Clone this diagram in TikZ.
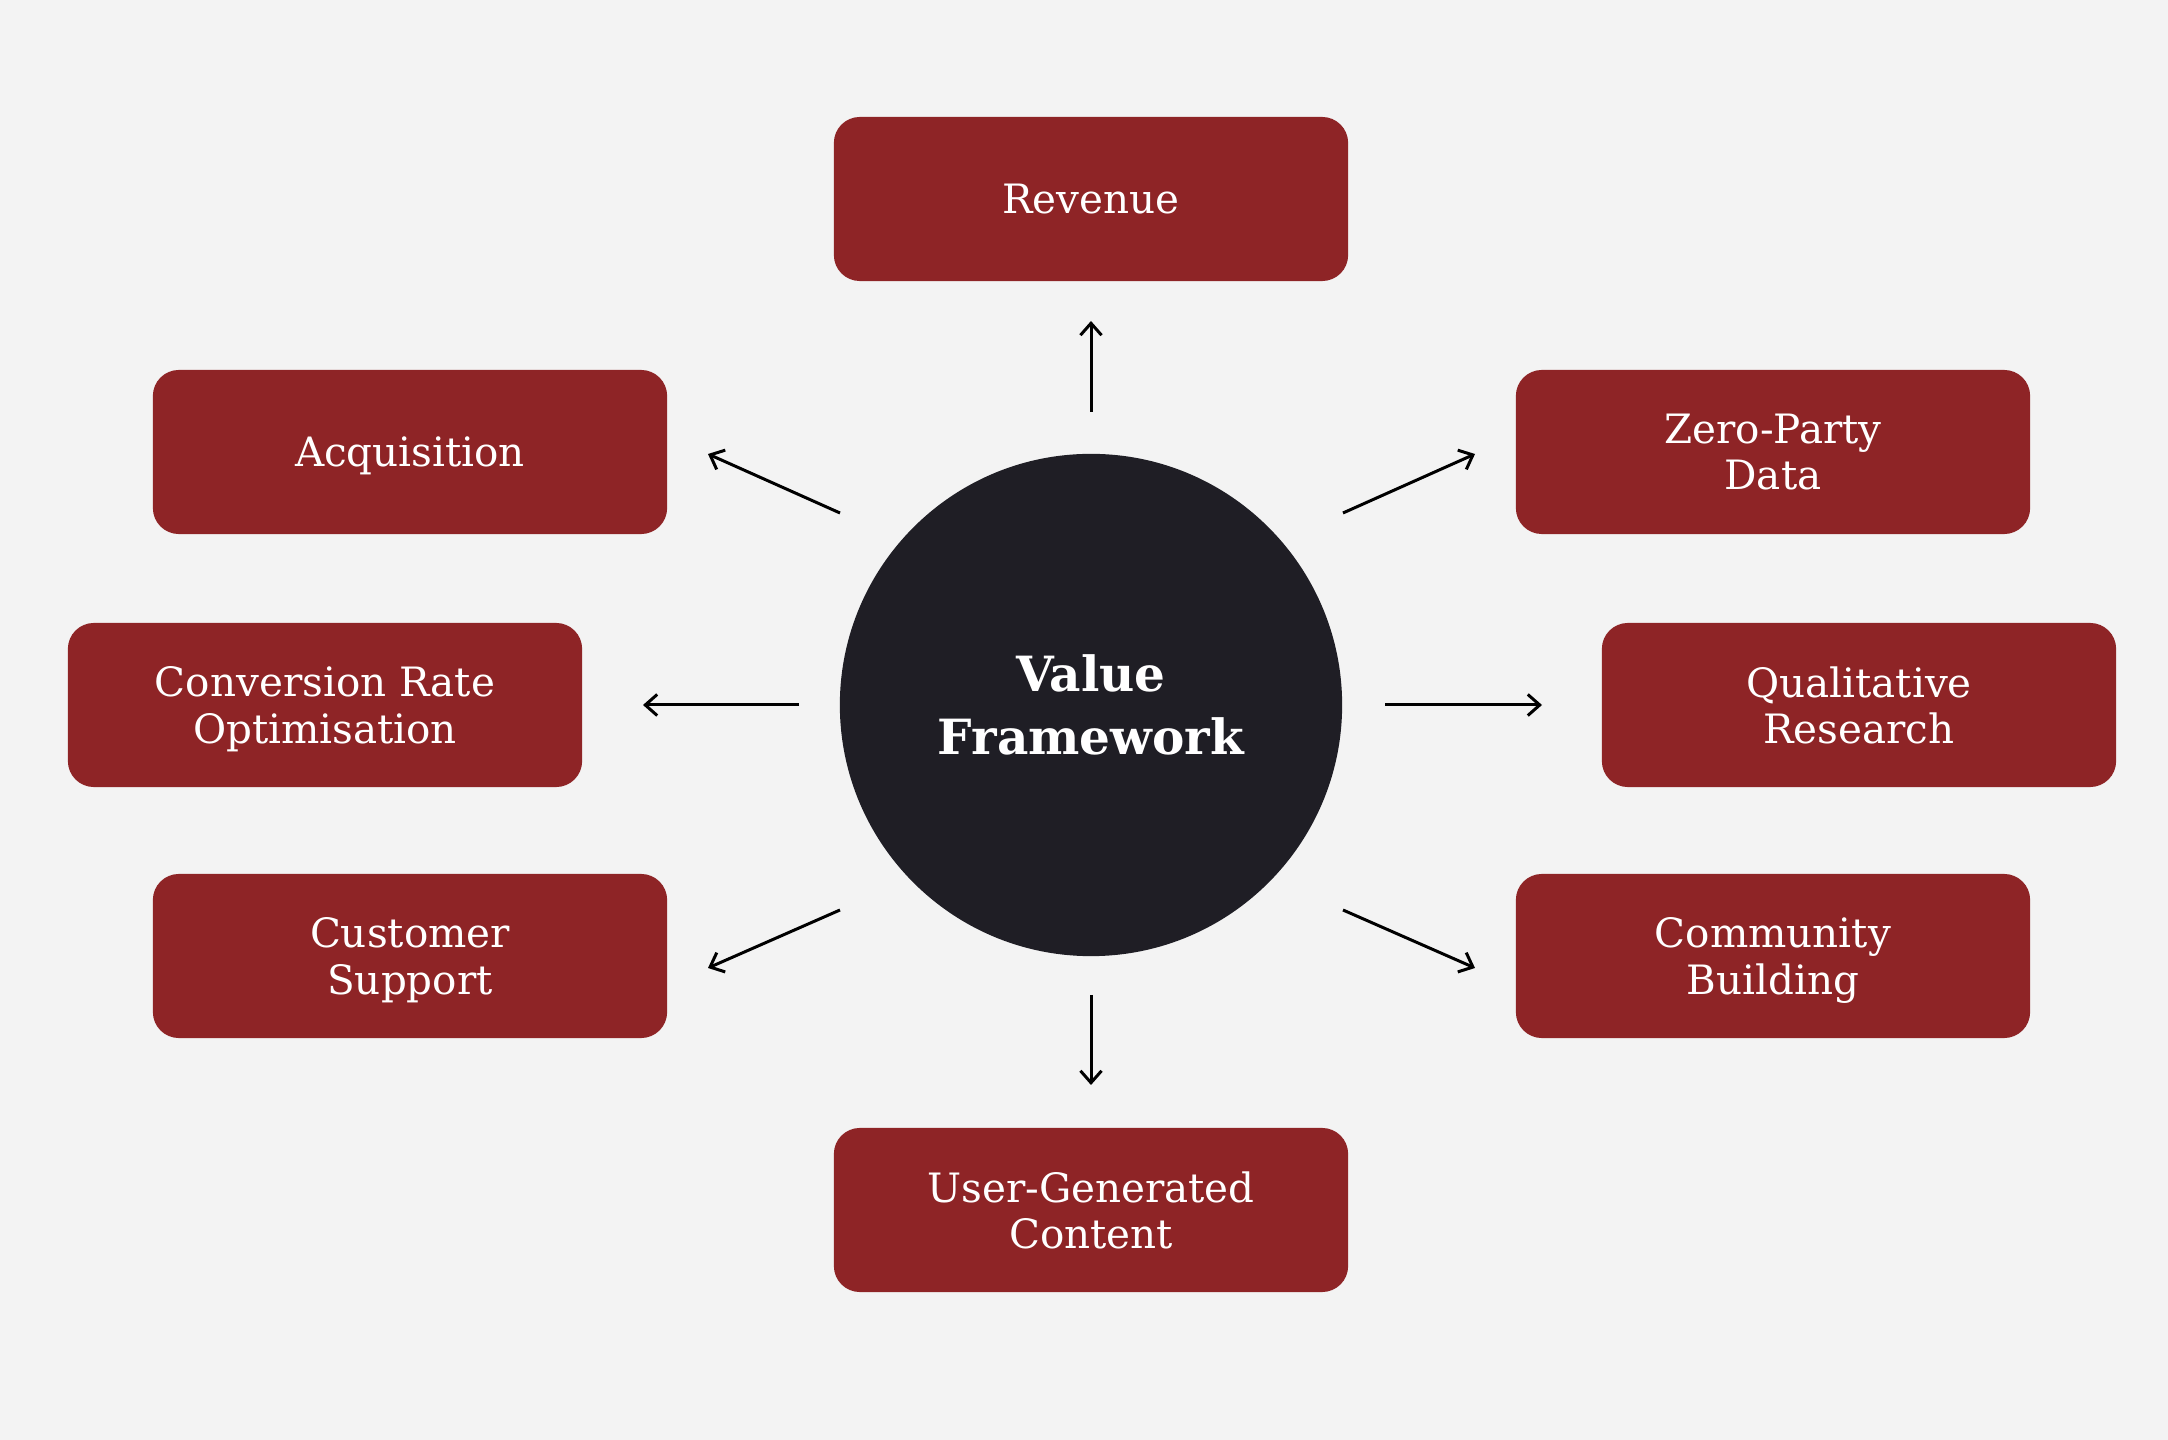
\documentclass[tikz,border=0pt]{standalone}
\usepackage{fontspec}
\setmainfont{DejaVu Serif}
\usetikzlibrary{arrows.meta}
\definecolor{boxred}{HTML}{8E2426}
\definecolor{hubdark}{HTML}{1F1E25}
\definecolor{paper}{HTML}{F3F3F3}
\tikzset{
  goalbox/.style={fill=boxred, text=white, rounded corners=0.26cm, minimum width=5.14cm, minimum height=1.64cm, align=center, text depth=0pt, font=\fontsize{11.5}{13.1}\selectfont},
  hub/.style={circle, fill=hubdark, text=white, minimum size=5.02cm, align=center, text depth=0pt, font=\fontsize{13.8}{17.9}\selectfont\bfseries},
  spoke/.style={-{Straight Barb[length=3.4pt,width=6pt]}, line width=0.85pt, black}
}
\begin{document}
\begin{tikzpicture}[x=0.01cm, y=-0.01cm]
        \fill[paper] (0,0) rectangle (2168,1440);
     % Centre
        \node[hub] (vf) at (1091,705) {Value\\Framework};
     % Goals
        \node[goalbox] (rev) at (1091,199) {Revenue};
        \node[goalbox] (acq) at (410,452) {Acquisition};
        \node[goalbox] (zpd) at (1773,452) {Zero-Party\\Data};
        \node[goalbox] (cro) at (325,705) {Conversion Rate\\Optimisation};
        \node[goalbox] (qual) at (1859,705) {Qualitative\\Research};
        \node[goalbox] (cs) at (410,956) {Customer\\Support};
        \node[goalbox] (comm) at (1773,956) {Community\\Building};
        \node[goalbox] (ugc) at (1091,1210) {User-Generated\\Content};
     % Arrow ends
        \coordinate (rev-a) at (1091,412);  \coordinate (rev-b) at (1091,321);
        \coordinate (ugc-a) at (1091,995);  \coordinate (ugc-b) at (1091,1085);
        \coordinate (cro-a) at (799,705);   \coordinate (cro-b) at (643,705);
        \coordinate (qual-a) at (1385,705); \coordinate (qual-b) at (1542,705);
        \coordinate (acq-a) at (840,513);   \coordinate (acq-b) at (708,454);
        \coordinate (zpd-a) at (1343,513);  \coordinate (zpd-b) at (1475,454);
        \coordinate (cs-a) at (840,910);    \coordinate (cs-b) at (708,968);
        \coordinate (comm-a) at (1343,910); \coordinate (comm-b) at (1475,968);
     % Arrows
        \draw[spoke] (rev-a) -- (rev-b);
        \draw[spoke] (ugc-a) -- (ugc-b);
        \draw[spoke] (cro-a) -- (cro-b);
        \draw[spoke] (qual-a) -- (qual-b);
        \draw[spoke] (acq-a) -- (acq-b);
        \draw[spoke] (zpd-a) -- (zpd-b);
        \draw[spoke] (cs-a) -- (cs-b);
        \draw[spoke] (comm-a) -- (comm-b);
\end{tikzpicture}
\end{document}
